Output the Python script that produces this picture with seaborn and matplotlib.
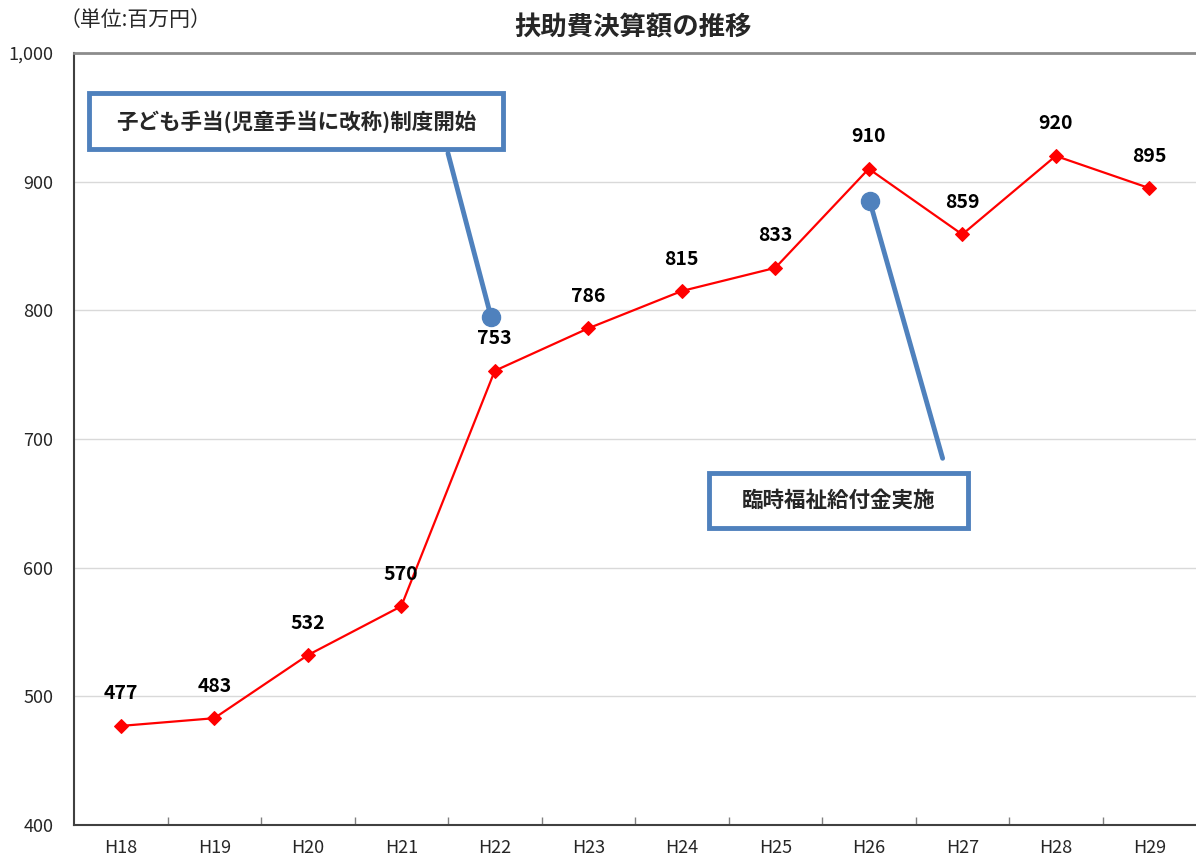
import matplotlib
matplotlib.use("Agg")
import matplotlib.pyplot as plt
import seaborn as sns
import pandas as pd
from matplotlib.patches import Rectangle

categories = ["H18", "H19", "H20", "H21", "H22", "H23", "H24", "H25", "H26", "H27", "H28", "H29"]
values = [477, 483, 532, 570, 753, 786, 815, 833, 910, 859, 920, 895]
yticks = [400, 500, 600, 700, 800, 900, 1000]
ytick_labels = ["400", "500", "600", "700", "800", "900", "1,000"]
title = "扶助費決算額の推移"
unit_label = "（単位:百万円）"
note1 = "子ども手当(児童手当に改称)制度開始"
note2 = "臨時福祉給付金実施"

sns.set_theme(style="white")
plt.rcParams["font.family"] = ["Noto Sans CJK JP", "DejaVu Sans"]

df = pd.DataFrame({"year": categories, "value": values})
df["pos"] = range(len(df))

fig = plt.figure(figsize=(11.96, 8.59), dpi=100)
ax = fig.add_axes([74 / 1196, 34 / 859, 1122 / 1196, 772 / 859])

for y in yticks:
    ax.axhline(y, color="#D9D9D9", lw=1, zorder=0)

sns.lineplot(data=df, x="pos", y="value", ax=ax, color="#FF0000", lw=1.6,
             marker="D", markersize=7, markeredgecolor="#FF0000", zorder=3)

for x, v in zip(df["pos"], df["value"]):
    ax.annotate(f"{v}", (x, v), xytext=(0, 23), textcoords="offset points",
                ha="center", va="center", fontsize=14, fontweight="bold", color="black",
                zorder=8)

ax.set_xlim(-0.5, len(categories) - 0.5)
ax.set_ylim(400, 1000)
ax.set_yticks(yticks)
ax.set_yticklabels(ytick_labels, fontsize=13)
ax.set_xticks(range(len(categories)))
ax.set_xticklabels(categories, fontsize=13)
ax.set_xticks([i + 0.5 for i in range(len(categories) - 1)], minor=True)
ax.tick_params(axis="x", which="major", length=0, pad=10)
ax.tick_params(axis="x", which="minor", length=6, color="#808080", direction="in", bottom=True)
ax.tick_params(axis="y", length=0, pad=15)
ax.set_xlabel("")
ax.set_ylabel("")

for s in ["left", "bottom"]:
    ax.spines[s].set_color("#404040")
    ax.spines[s].set_linewidth(1.5)
ax.spines["top"].set_color("#8C8C8C")
ax.spines["top"].set_linewidth(2)
ax.spines["right"].set_visible(False)

# annotation callouts (data coords)
blue = "#4F81BD"
ax.plot([3.5, 3.96], [922, 795], color=blue, lw=3.5, zorder=4)
ax.plot([3.96], [795], marker="o", color=blue, markersize=13, zorder=5)
ax.plot([8.79, 8.01], [685, 885], color=blue, lw=3.5, zorder=4)
ax.plot([8.01], [885], marker="o", color=blue, markersize=13, zorder=5)

ax.add_patch(Rectangle((-0.34, 925.4), 4.43, 43.5, facecolor="white", edgecolor=blue,
                       lw=3.5, zorder=6, clip_on=False))
ax.text((-0.34 + 4.09) / 2, 947, note1, ha="center", va="center", fontsize=15.5,
        fontweight="bold", zorder=7)
ax.add_patch(Rectangle((6.29, 630.9), 2.77, 42.8, facecolor="white", edgecolor=blue,
                       lw=3.5, zorder=6))
ax.text((6.29 + 9.06) / 2, 652.3, note2, ha="center", va="center", fontsize=15.5,
        fontweight="bold", zorder=7)

fig.text(633 / 1196, 1 - 28 / 859, title, ha="center", va="center", fontsize=19, fontweight="bold")
fig.text(60 / 1196, 1 - 20 / 859, unit_label, ha="left", va="center", fontsize=15)

fig.savefig("out.png", dpi=100)
